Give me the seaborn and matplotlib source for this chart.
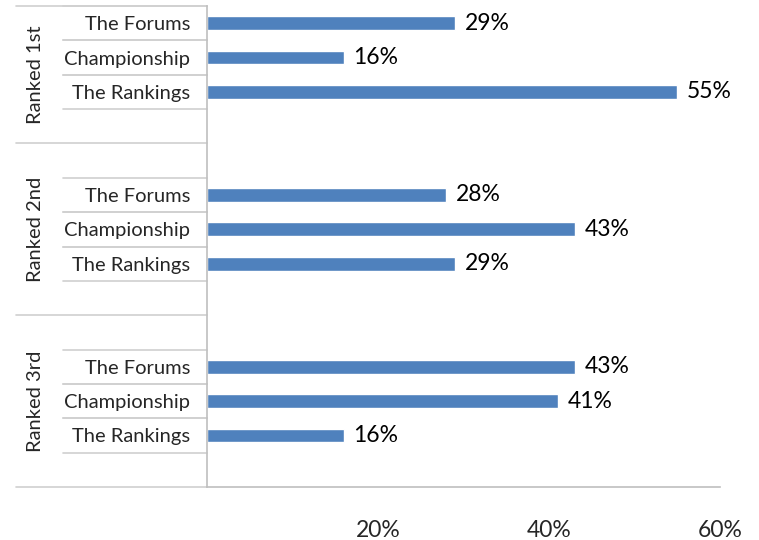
import pandas as pd
import seaborn as sns
import matplotlib.pyplot as plt
from matplotlib.transforms import blended_transform_factory

# data
groups = ["Ranked 1st", "Ranked 2nd", "Ranked 3rd"]
items = ["The Forums", "Championship", "The Rankings"]
ranked_1st = [29, 16, 55]
ranked_2nd = [28, 43, 29]
ranked_3rd = [43, 41, 16]
x_ticks = [0, 20, 40, 60]
x_tick_labels = ["", "20%", "40%", "60%"]

sns.set_style("white")
plt.rcParams['font.family'] = ['Lato', 'DejaVu Sans']

bar_color = "#4F81BD"
line_color = "#D0D0D0"
axis_color = "#BFBFBF"

# long table, plus empty slots between the groups (like Excel's multi-level axis)
rows = []
order = []
for gi, (g, vals) in enumerate(zip(groups, [ranked_1st, ranked_2nd, ranked_3rd])):
    if gi > 0:
        order.append(f"gap_before_{gi}")
    for item, v in zip(items, vals):
        key = f"{g}|{item}"
        rows.append({"key": key, "group": g, "item": item, "value": v})
        order.append(key)
    order.append(f"gap_after_{gi}")
df = pd.DataFrame(rows)

fig = plt.figure(figsize=(7.59, 5.4), dpi=100)
ax = fig.add_axes([207 / 759, 53 / 540, 513 / 759, 481 / 540])

sns.barplot(data=df, x="value", y="key", order=order, color=bar_color,
            width=0.4, errorbar=None, saturation=1, ax=ax)

ax.set_xlim(0, 60)
ax.set_ylim(len(order) - 0.5, -0.5)
ax.set_xlabel("")
ax.set_ylabel("")

for c in ax.containers:
    ax.bar_label(c, fmt="{:.0f}%", padding=7, fontsize=16.5, color="black")

# x axis
ax.set_xticks(x_ticks)
ax.set_xticklabels(x_tick_labels, fontsize=16.5)
ax.tick_params(axis="x", direction="out", length=6, width=1, color=axis_color, pad=18)

# y tick labels: item names only
pos = [order.index(k) for k in df["key"]]
ax.set_yticks(pos)
ax.set_yticklabels(df["item"], fontsize=14.5)
ax.tick_params(axis="y", length=0, pad=12)

for side in ["top", "right"]:
    ax.spines[side].set_visible(False)
for side in ["left", "bottom"]:
    ax.spines[side].set_color(axis_color)
    ax.spines[side].set_linewidth(1.2)

# table lines of the category axis
trans = blended_transform_factory(ax.transAxes, ax.transData)
item_x0 = (63 - 207) / 513
group_x0 = (16 - 207) / 513
for p in pos:
    for yy in (p - 0.5, p + 0.5):
        ax.plot([item_x0, 0], [yy, yy], color=line_color, lw=1.2,
                transform=trans, clip_on=False)

group_bounds = [-0.5]
for gi in range(len(groups)):
    group_bounds.append(order.index(f"gap_after_{gi}") + 0.5)
for yy in group_bounds:
    ax.plot([group_x0, 0], [yy, yy], color=line_color, lw=1.2,
            transform=trans, clip_on=False)

for gi, g in enumerate(groups):
    yc = (group_bounds[gi] + group_bounds[gi + 1]) / 2
    ax.text((36 - 207) / 513, yc, g, rotation=90, ha="center", va="center",
            fontsize=14.5, transform=trans)

fig.savefig("out.png", dpi=100)
